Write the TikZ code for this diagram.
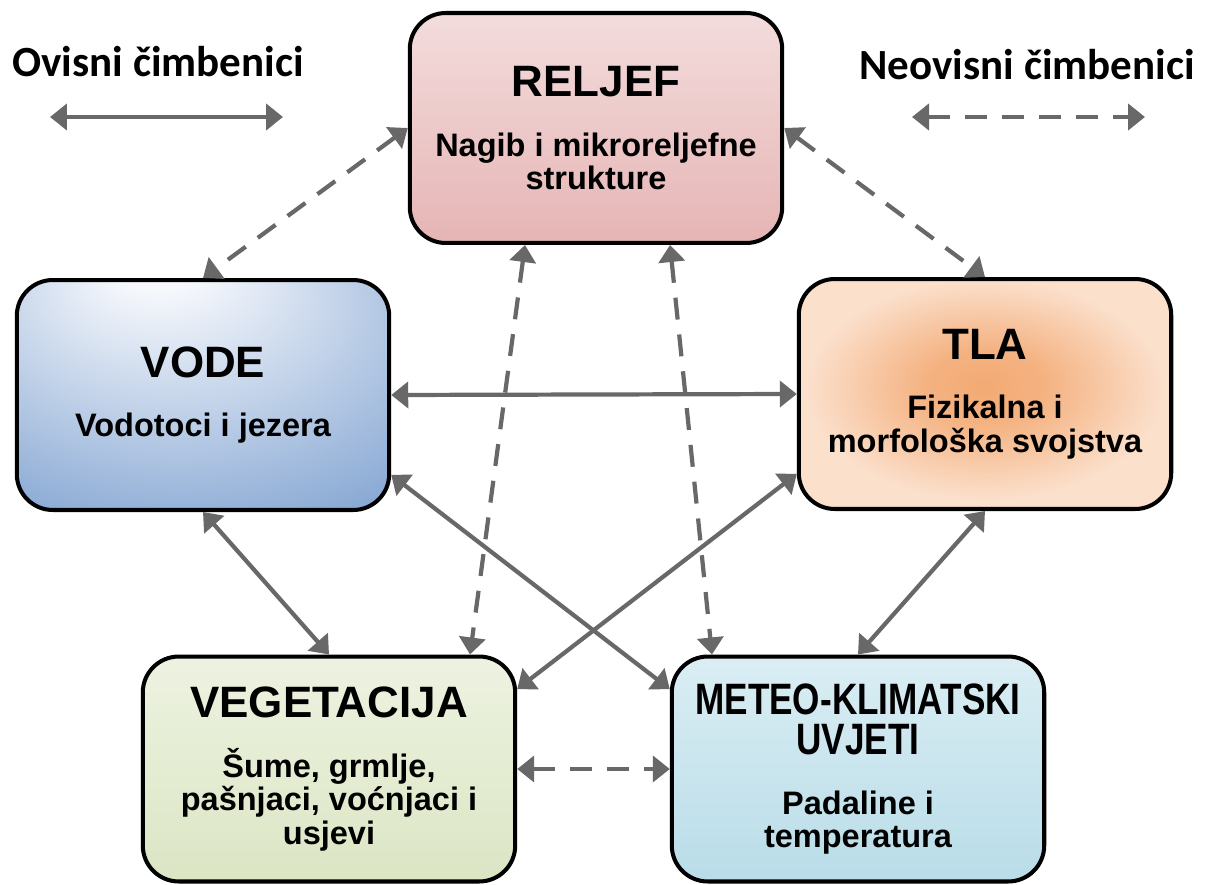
\documentclass[tikz,border=0pt]{standalone}
\usepackage{fontspec}
\setmainfont{Liberation Sans}
\newfontfamily\legendfont{Carlito}
\newfontfamily\uskifont[FakeStretch=0.8]{Liberation Sans}
\usetikzlibrary{arrows.meta,calc}

\definecolor{strelica}{RGB}{104,104,104}
\definecolor{reljefvrh}{HTML}{FAF0F0}
\definecolor{reljefsred}{HTML}{E3ACAC}
\definecolor{reljefdno}{HTML}{EBC2C2}
\definecolor{vodesvijetlo}{HTML}{F6F8FC}
\definecolor{vodeplavo}{HTML}{4C7DBE}
\definecolor{tlasredina}{HTML}{F3AA74}
\definecolor{tlaprsten}{HTML}{FBE0CC}
\definecolor{tlarub}{HTML}{F6C49E}
\definecolor{vegvrh}{HTML}{F6F9EF}
\definecolor{vegdno}{HTML}{D2DFB6}
\definecolor{meteovrh}{HTML}{EBF6F9}
\definecolor{meteodno}{HTML}{A8D4E3}

\pgfdeclareverticalshading{reljefsjena}{100bp}{color(0bp)=(reljefdno); color(14bp)=(reljefsred); color(100bp)=(reljefvrh)}
\pgfdeclareradialshading{vodesjena}{\pgfpoint{-7bp}{32bp}}{color(0bp)=(vodesvijetlo); color(6bp)=(vodesvijetlo); color(62bp)=(vodeplavo)}
\pgfdeclareradialshading{tlasjena}{\pgfpoint{0bp}{2bp}}{color(0bp)=(tlasredina); color(8bp)=(tlasredina!85!tlaprsten); color(24bp)=(tlaprsten); color(32bp)=(tlaprsten); color(50bp)=(tlarub)}
\pgfdeclareverticalshading{vegsjena}{100bp}{color(0bp)=(vegdno); color(100bp)=(vegvrh)}
\pgfdeclareverticalshading{meteosjena}{100bp}{color(0bp)=(meteodno); color(100bp)=(meteovrh)}

\newcommand{\naslovfont}{\fontsize{25}{23}\selectfont\bfseries}
\newcommand{\opisfont}{\fontsize{18.5}{19}\selectfont\bfseries}

\tikzset{
  faktor/.style={draw=black, line width=2.3pt, rounded corners=0.72cm,
    minimum width=7.45cm, minimum height=4.6cm, inner sep=0pt,
    align=center, font=\opisfont, shade},
  veza/.style={draw=strelica, line width=2.4pt,
    {Triangle[width=0.52cm,length=0.34cm]}-{Triangle[width=0.52cm,length=0.34cm]}},
  neovisna/.style={veza, dash pattern=on 0.44cm off 0.3cm},
  legenda/.style={font=\legendfont\fontsize{24.5}{26}\selectfont\bfseries}
}

\begin{document}
\begin{tikzpicture}[x=0.02cm, y=-0.02cm]
\useasboundingbox (0,0) rectangle (1206,885);

% legenda
\node[legenda] (ovisni) at (158,62) {Ovisni čimbenici};
\node[legenda] (neovisni) at (1027,65) {Neovisni čimbenici};
\coordinate (ovisniL) at (50,117);
\coordinate (ovisniD) at (283,117);
\coordinate (neovisniL) at (912,117);
\coordinate (neovisniD) at (1145,117);
\draw[veza] (ovisniL) -- (ovisniD);
\draw[neovisna] (neovisniL) -- (neovisniD);

% cimbenici
\node[faktor, shading=reljefsjena] (reljef) at (596,128)
  {{\naslovfont RELJEF}\\[15pt]Nagib i mikroreljefne\\strukture};
\node[faktor, shading=vodesjena] (vode) at (203,395)
  {{\naslovfont VODE}\\[15pt]Vodotoci i jezera};
\node[faktor, shading=tlasjena] (tla) at (985,394)
  {{\naslovfont TLA}\\[15pt]Fizikalna i\\morfološka svojstva};
\node[faktor, shading=vegsjena, minimum height=4.5cm] (veg) at (329,769)
  {{\naslovfont VEGETACIJA}\\[15pt]Šume, grmlje,\\pašnjaci, voćnjaci i\\usjevi};
\node[faktor, shading=meteosjena, minimum height=4.5cm] (meteo) at (858,769)
  {{\uskifont\naslovfont METEO-KLIMATSKI}\\[4pt]{\uskifont\naslovfont UVJETI}\\[15pt]Padaline i\\temperatura};

% ovisne veze
\draw[veza] (vode.east) -- (tla.west);
\draw[veza] (vode.south) -- (veg.north);
\draw[veza] (tla.south) -- (meteo.north);
\draw[veza] (vode.-23) -- (meteo.157);
\draw[veza] (tla.203) -- (veg.23);

% neovisne veze
\draw[neovisna] (reljef.west) -- (vode.north);
\draw[neovisna] (reljef.east) -- (tla.north);
\draw[neovisna] ($(reljef.south)+(-71,0)$) -- ($(veg.north)+(141,0)$);
\draw[neovisna] ($(reljef.south)+(74,0)$) -- ($(meteo.north)+(-146,0)$);
\draw[neovisna] (veg.east) -- (meteo.west);
\end{tikzpicture}
\end{document}
